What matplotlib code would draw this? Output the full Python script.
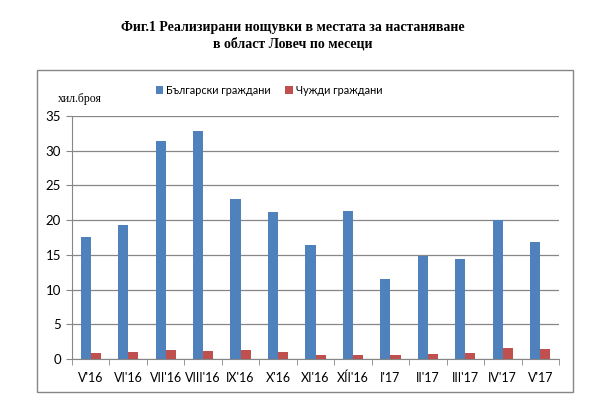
import matplotlib
matplotlib.use("Agg")
import matplotlib.pyplot as plt
import numpy as np
from matplotlib.patches import Rectangle

months = ["V'16", "VI'16", "VII'16", "VIII'16", "IX'16", "X'16", "XI'16",
          "XÍI'16", "I'17", "II'17", "III'17", "IV'17", "V'17"]
bulgarians = [17.6, 19.3, 31.4, 32.8, 23.0, 21.2, 16.4,
              21.3, 11.5, 14.9, 14.4, 20.0, 16.9]
foreigners = [0.86, 1.0, 1.34, 1.2, 1.34, 1.0, 0.58,
              0.58, 0.58, 0.72, 0.86, 1.58, 1.44]

BLUE = "#4F81BD"
RED = "#C0504D"
GRID = "#868686"
SANS = "Lato"

W, H = 596, 401
fig = plt.figure(figsize=(W / 100, H / 100), dpi=100)

# outer chart frame
fig.patches.append(Rectangle((37 / W, 1 - 392 / H), (573 - 37) / W, (392 - 70) / H,
                             transform=fig.transFigure, fill=False,
                             edgecolor=GRID, lw=1.0))

ax = fig.add_axes([72 / W, 1 - 359 / H, (559 - 72) / W, (359 - 116) / H])

x = np.arange(len(months))
bw = 0.27
ax.bar(x - bw / 2, bulgarians, bw, color=BLUE, label="Български граждани")
ax.bar(x + bw / 2, foreigners, bw, color=RED, label="Чужди граждани")

ax.set_xlim(-0.5, len(months) - 0.5)
ax.set_ylim(0, 35)
ax.set_yticks(range(0, 36, 5))
ax.yaxis.grid(True, color=GRID, lw=0.9)
ax.set_axisbelow(True)

ax.set_xticks(x)
ax.set_xticklabels(months, fontsize=9, family=SANS)
ax.set_xticks(np.arange(-0.5, len(months)), minor=True)
ax.tick_params(axis="x", which="major", length=0, pad=9)
ax.tick_params(axis="x", which="minor", length=4, color=GRID)
ax.tick_params(axis="y", length=4, color=GRID, pad=4)
for lbl in ax.get_yticklabels():
    lbl.set_fontsize(9.5)
    lbl.set_family(SANS)

for s in ["top", "right"]:
    ax.spines[s].set_visible(False)
for s in ["left", "bottom"]:
    ax.spines[s].set_color(GRID)

fig.legend(loc="center", bbox_to_anchor=(269 / W, 1 - 90 / H), ncol=2,
           frameon=False, prop={"family": SANS, "size": 7.8},
           handlelength=0.7, handleheight=0.8, handletextpad=0.3,
           columnspacing=1.3)

fig.text(80 / W, 1 - 99 / H, "хил.броя", ha="center", va="center",
         fontsize=8.5, family="Liberation Serif")

fig.text(293 / W, 1 - 27 / H, "Фиг.1 Реализирани нощувки в местата за настаняване",
         ha="center", va="center", fontsize=10, fontweight="bold",
         family="Liberation Serif")
fig.text(293 / W, 1 - 44 / H, "в област Ловеч по месеци",
         ha="center", va="center", fontsize=10, fontweight="bold",
         family="Liberation Serif")

fig.savefig("out.png", dpi=100)
